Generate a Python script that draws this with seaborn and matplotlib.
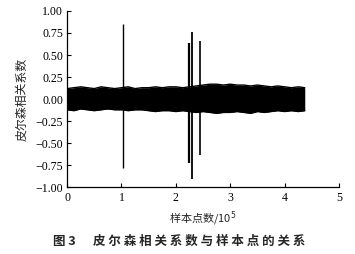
import numpy as np
import pandas as pd
import matplotlib
matplotlib.use("Agg")
import matplotlib.pyplot as plt
import seaborn as sns

# band envelope of the Pearson coefficient (x in 1e5 samples)
env_x = [0.0, 0.125, 0.25, 0.375, 0.5, 0.625, 0.75, 0.875, 1.0, 1.125, 1.25, 1.375,
         1.5, 1.625, 1.75, 1.875, 2.0, 2.125, 2.25, 2.375, 2.5, 2.625, 2.75, 2.875,
         3.0, 3.125, 3.25, 3.375, 3.5, 3.625, 3.75, 3.875, 4.0, 4.125, 4.25, 4.37]
env_upper = [0.12, 0.13, 0.14, 0.13, 0.12, 0.14, 0.13, 0.12, 0.13, 0.14, 0.12, 0.13,
             0.13, 0.14, 0.13, 0.14, 0.14, 0.13, 0.14, 0.15, 0.16, 0.17, 0.17, 0.16,
             0.17, 0.16, 0.16, 0.15, 0.16, 0.15, 0.14, 0.15, 0.14, 0.13, 0.14, 0.13]
env_lower = [-0.12, -0.13, -0.11, -0.12, -0.13, -0.12, -0.11, -0.12, -0.12, -0.13, -0.12, -0.12,
             -0.13, -0.14, -0.13, -0.13, -0.14, -0.13, -0.14, -0.15, -0.14, -0.15, -0.16, -0.15,
             -0.15, -0.14, -0.15, -0.16, -0.14, -0.15, -0.14, -0.13, -0.14, -0.13, -0.14, -0.13]

# isolated spikes
spike_x = [1.03, 2.24, 2.29, 2.45]
spike_top = [0.85, 0.64, 0.76, 0.66]
spike_bottom = [-0.78, -0.72, -0.90, -0.63]
spike_width = [1.0, 1.6, 1.3, 1.2]

x_ticks = [0, 1, 2, 3, 4, 5]
y_ticks = [-1.00, -0.75, -0.50, -0.25, 0.00, 0.25, 0.50, 0.75, 1.00]

sns.set_style("ticks")
plt.rcParams["font.family"] = ["Liberation Serif", "Noto Sans CJK SC"]
plt.rcParams["axes.unicode_minus"] = True

fig = plt.figure(figsize=(3.55, 2.54), dpi=100)
ax = fig.add_axes([0.189, 0.262, 0.766, 0.695])

env = pd.DataFrame({"x": env_x, "upper": env_upper, "lower": env_lower})
sns.lineplot(data=env, x="x", y="upper", ax=ax, color="black", lw=1.0)
sns.lineplot(data=env, x="x", y="lower", ax=ax, color="black", lw=1.0)
ax.fill_between(env["x"], env["lower"], env["upper"], color="black", lw=0)

for xs, t, b, w in zip(spike_x, spike_top, spike_bottom, spike_width):
    ax.vlines(xs, b, t, color="black", lw=w)

ax.set_xlim(0, 5)
ax.set_ylim(-1, 1)
ax.set_xticks(x_ticks)
ax.set_xticklabels([str(v) for v in x_ticks])
ax.set_yticks(y_ticks)
ax.set_yticklabels([f"{v:.2f}".replace("-", "\u2212") for v in y_ticks])
ax.tick_params(direction="in", length=3, width=0.8, labelsize=8.6, pad=3, colors="black")
for s in ["top", "right"]:
    ax.spines[s].set_visible(False)
for s in ["left", "bottom"]:
    ax.spines[s].set_linewidth(0.9)
    ax.spines[s].set_color("black")

ax.set_xlabel("样本点数/10$^5$", fontsize=8, family=["Noto Sans CJK SC", "DejaVu Sans"], labelpad=4)
ax.set_ylabel("皮尔森相关系数", fontsize=8.6, family=["Noto Sans CJK SC", "DejaVu Sans"], labelpad=5)

fig.text(0.149, 0.049, "图 3", fontsize=9, fontweight="bold",
         family=["Noto Sans CJK SC", "DejaVu Sans"], va="center", ha="left")
fig.text(0.262, 0.049, " ".join("皮尔森相关系数与样本点的关系"), fontsize=9, fontweight="bold",
         family=["Noto Sans CJK SC", "DejaVu Sans"], va="center", ha="left")

fig.savefig("out.png", dpi=100, facecolor="white")
